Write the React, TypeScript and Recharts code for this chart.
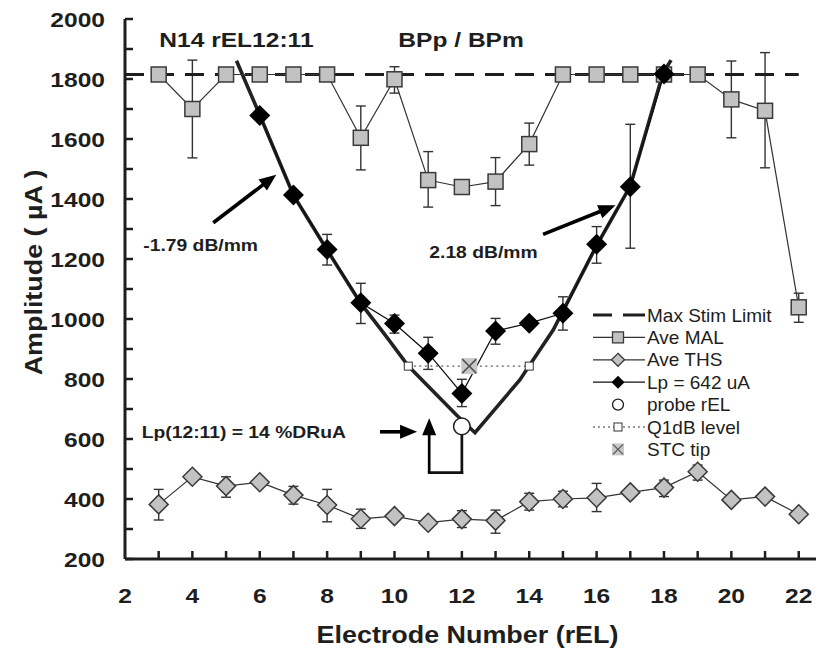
import React from 'react';
import { ComposedChart, Scatter, XAxis, YAxis, ErrorBar, ReferenceLine, Legend } from 'recharts';

// ---------- data ----------
const electrodes = [3, 4, 5, 6, 7, 8, 9, 10, 11, 12, 13, 14, 15, 16, 17, 18, 19, 20, 21, 22];
const malValues = [1815, 1700, 1815, 1815, 1815, 1815, 1604, 1799, 1463, 1440, 1458, 1583, 1815, 1815, 1815, 1815, 1815, 1732, 1694, 1039];
const malErr: (number[] | null)[] = [null, [163, 163], null, null, null, null, [107, 106], [46, 42], [90, 95], null, [80, 80], [70, 70], null, null, null, null, null, [128, 128], [190, 194], [50, 47]];
const thsValues = [382, 474, 443, 456, 413, 380, 334, 343, 321, 333, 328, 391, 400, 404, 422, 438, 491, 397, 408, 349];
const thsErr: (number[] | null)[] = [[52, 50], null, [37, 31], null, [30, 29], [56, 52], [32, 32], null, null, [28, 28], [42, 35], [28, 28], [26, 26], [46, 48], null, [30, 25], [28, 22], null, null, null];
const lpElectrodes = [6, 7, 8, 9, 10, 11, 12, 13, 14, 15, 16, 17, 18];
const lpValues = [1678, 1413, 1232, 1054, 985, 886, 752, 960, 986, 1019, 1249, 1441, 1817];
const lpErr: (number[] | null)[] = [null, null, [52, 50], [69, 65], [32, 28], [54, 53], [44, 47], [44, 42], null, [56, 55], [63, 59], [205, 208], null];
const vCurveX = [5.31, 6, 7, 8, 9, 9.76, 10.41, 11.84, 12.39, 13.72, 14, 14.71, 16, 17, 17.97, 18.21];
const vCurveY = [1861, 1680, 1413, 1230, 1052, 941, 843, 680, 621, 797, 844, 963, 1245, 1443, 1819, 1863];
const maxStimLimit = 1815;
const maxStimX = [2, 22];
const q1dbX = [10.41, 14];
const q1dbLevel = 843;
const stcTip = [{ x: 12.22, y: 843 }];
const probe = [{ x: 12, y: 642 }];
const bracketPath = [{ x: 12, y: 617 }, { x: 12, y: 488 }, { x: 11.03, y: 488 }];
const arrows = [
  { from: { x: 4.62, y: 1321 }, to: { x: 6.49, y: 1481 }, w: 3.6 },
  { from: { x: 14.41, y: 1282 }, to: { x: 16.56, y: 1379 }, w: 3.6 },
  { from: { x: 9.57, y: 624 }, to: { x: 10.67, y: 624 }, w: 3.6 },
  { from: { x: 11.03, y: 488 }, to: { x: 11.03, y: 669 }, w: 2.7 },
];
const xTicks = [2, 3, 4, 5, 6, 7, 8, 9, 10, 11, 12, 13, 14, 15, 16, 17, 18, 19, 20, 21, 22];
const yTicks = [200, 300, 400, 500, 600, 700, 800, 900, 1000, 1100, 1200, 1300, 1400, 1500, 1600, 1700, 1800, 1900, 2000];
const legendLabels = ['Max Stim Limit', 'Ave MAL', 'Ave THS', 'Lp = 642 uA', 'probe rEL', 'Q1dB level', 'STC tip'];

const malData = electrodes.map((x, i) => ({ x, y: malValues[i], err: malErr[i] }));
const thsData = electrodes.map((x, i) => ({ x, y: thsValues[i], err: thsErr[i] }));
const lpData = lpElectrodes.map((x, i) => ({ x, y: lpValues[i], err: lpErr[i] }));
const vData = vCurveX.map((x, i) => ({ x, y: vCurveY[i] }));
const maxData = maxStimX.map((x) => ({ x, y: maxStimLimit }));
const q1Data = q1dbX.map((x) => ({ x, y: q1dbLevel }));

// ---------- styles ----------
const FONT = '"Liberation Sans", Arial, Helvetica, sans-serif';
const INK = '#1e1e1e';
const GRAY = '#c2c2c2';
const EDGE = '#3a3a3a';
const SX = 1.17;

const None = () => <g />;
const Square = (p: any) => (
  <rect x={p.cx - 7.5} y={p.cy - 7.5} width={15} height={15} fill={GRAY} stroke={EDGE} strokeWidth={1.5} />
);
const GrayDiamond = (p: any) => (
  <polygon points={`${p.cx},${p.cy - 9.5} ${p.cx + 9.5},${p.cy} ${p.cx},${p.cy + 9.5} ${p.cx - 9.5},${p.cy}`} fill={GRAY} stroke={EDGE} strokeWidth={1.5} />
);
const BlackDiamond = (p: any) => (
  <polygon points={`${p.cx},${p.cy - 10.5} ${p.cx + 10.5},${p.cy} ${p.cx},${p.cy + 10.5} ${p.cx - 10.5},${p.cy}`} fill="#000" />
);
const OpenSquare = (p: any) => (
  <rect x={p.cx - 4} y={p.cy - 4} width={8} height={8} fill="#fff" stroke="#333" strokeWidth={1} />
);
const StcShape = (p: any) => (
  <g>
    <rect x={p.cx - 8} y={p.cy - 8} width={16} height={16} fill="#c8c8c8" />
    <line x1={p.cx - 7} y1={p.cy - 7} x2={p.cx + 7} y2={p.cy + 7} stroke="#555" strokeWidth={1.5} />
    <line x1={p.cx - 7} y1={p.cy + 7} x2={p.cx + 7} y2={p.cy - 7} stroke="#555" strokeWidth={1.5} />
  </g>
);
const ProbeShape = (p: any) => <circle cx={p.cx} cy={p.cy} r={8.3} fill="#fff" stroke={INK} strokeWidth={1.5} />;

const makeArrow = (w: number) => (p: any) => {
  const { x1, y1, x2, y2 } = p;
  const a = Math.atan2(y2 - y1, x2 - x1);
  const L = 17;
  const H = 7;
  const c = Math.cos(a);
  const s = Math.sin(a);
  const bx = x2 - L * c;
  const by = y2 - L * s;
  return (
    <g>
      <line x1={x1} y1={y1} x2={bx + c} y2={by + s} stroke="#000" strokeWidth={w} />
      <polygon points={`${x2},${y2} ${bx - H * s},${by + H * c} ${bx + H * s},${by - H * c}`} fill="#000" />
    </g>
  );
};
const plainLine = (p: any) => (
  <line x1={p.x1} y1={p.y1} x2={p.x2} y2={p.y2} stroke="#111" strokeWidth={2.7} strokeLinecap="square" />
);

const YTick = (p: any) => {
  const { x, y, payload } = p;
  const v = payload.value;
  const axisX = x + 20;
  return (
    <g>
      <line x1={axisX} y1={y} x2={axisX + 8} y2={y} stroke={INK} strokeWidth={2.5} />
      {v % 200 === 0 && (
        <text transform={`translate(${x},${y}) scale(${SX},1)`} textAnchor="end" dy="0.36em" fontFamily={FONT} fontWeight="bold" fontSize={21} fill={INK}>
          {v}
        </text>
      )}
    </g>
  );
};
const XTick = (p: any) => {
  const { x, y, payload } = p;
  const v = payload.value;
  return (
    <g>
      {v > 2 && <line x1={x} y1={y} x2={x} y2={y - 8} stroke={INK} strokeWidth={2.5} />}
      {v % 2 === 0 && (
        <text transform={`translate(${x},${y + 44}) scale(${SX},1)`} textAnchor="middle" fontFamily={FONT} fontWeight="bold" fontSize={21} fill={INK}>
          {v}
        </text>
      )}
    </g>
  );
};

const BoldText = ({ x, y, size, children, anchor = 'start', rotate = 0 }: any) => (
  <text transform={`translate(${x},${y}) rotate(${rotate}) scale(${SX},1)`} textAnchor={anchor} fontFamily={FONT} fontWeight="bold" fontSize={size} fill={INK}>
    {children}
  </text>
);

const Annotations = () => (
  <g>
    <BoldText x={151.3} y={38.7} size={21}>N14 rEL12:11</BoldText>
    <BoldText x={390.3} y={38.7} size={21}>BPp / BPm</BoldText>
    <BoldText x={135.3} y={242.7} size={16.5}>-1.79 dB/mm</BoldText>
    <BoldText x={421.3} y={249.7} size={16.5}>2.18 dB/mm</BoldText>
    <BoldText x={133.7} y={430.3} size={16.5}>Lp(12:11) = 14 %DRuA</BoldText>
    <BoldText x={459.5} y={635} size={23} anchor="middle">Electrode Number (rEL)</BoldText>
    <BoldText x={33.5} y={264.5} size={23} anchor="middle" rotate={-90}>Amplitude ( µA )</BoldText>
  </g>
);

const LegendBox = () => {
  const rowY = (i: number) => 15 + i * 22.4;
  const mx = 28;
  return (
    <svg width={230} height={165} style={{ display: 'block', overflow: 'visible' }}>
      {legendLabels.map((label, i) => {
        const y = rowY(i);
        let mark: React.ReactNode = null;
        if (i === 0) {
          mark = (
            <g>
              <line x1={3} y1={y} x2={22} y2={y} stroke={INK} strokeWidth={3} />
              <line x1={33} y1={y} x2={55} y2={y} stroke={INK} strokeWidth={3} />
            </g>
          );
        } else if (i === 1) {
          mark = (
            <g>
              <line x1={3} y1={y} x2={55} y2={y} stroke="#333" strokeWidth={1.2} />
              <rect x={mx - 5.5} y={y - 5.5} width={11} height={11} fill={GRAY} stroke={EDGE} strokeWidth={1.3} />
            </g>
          );
        } else if (i === 2) {
          mark = (
            <g>
              <line x1={3} y1={y} x2={55} y2={y} stroke="#333" strokeWidth={1.2} />
              <polygon points={`${mx},${y - 6.5} ${mx + 6.5},${y} ${mx},${y + 6.5} ${mx - 6.5},${y}`} fill={GRAY} stroke={EDGE} strokeWidth={1.3} />
            </g>
          );
        } else if (i === 3) {
          mark = (
            <g>
              <line x1={3} y1={y} x2={55} y2={y} stroke="#111" strokeWidth={1.2} />
              <polygon points={`${mx},${y - 6.5} ${mx + 6.5},${y} ${mx},${y + 6.5} ${mx - 6.5},${y}`} fill="#000" />
            </g>
          );
        } else if (i === 4) {
          mark = <circle cx={mx} cy={y} r={5.5} fill="#fff" stroke={INK} strokeWidth={1.3} />;
        } else if (i === 5) {
          mark = (
            <g>
              <line x1={3} y1={y} x2={55} y2={y} stroke="#333" strokeWidth={1} strokeDasharray="2 3" />
              <rect x={mx - 4} y={y - 4} width={8} height={8} fill="#fff" stroke="#333" strokeWidth={1} />
            </g>
          );
        } else {
          mark = (
            <g>
              <rect x={mx - 6} y={y - 6} width={12} height={12} fill="#c8c8c8" />
              <line x1={mx - 5} y1={y - 5} x2={mx + 5} y2={y + 5} stroke="#555" strokeWidth={1.3} />
              <line x1={mx - 5} y1={y + 5} x2={mx + 5} y2={y - 5} stroke="#555" strokeWidth={1.3} />
            </g>
          );
        }
        return (
          <g key={label}>
            {mark}
            <text x={57} y={y} dy="0.35em" fontFamily={FONT} fontSize={19} fill={INK}>
              {label}
            </text>
          </g>
        );
      })}
    </svg>
  );
};

export default function App() {
  return (
    <div style={{ width: 816, height: 646, background: '#fff' }}>
      <ComposedChart width={816} height={646} margin={{ top: 11, right: 0, bottom: 0, left: 0 }}>
        <XAxis
          type="number"
          dataKey="x"
          domain={[2, 22.75]}
          ticks={xTicks}
          interval={0}
          allowDataOverflow
          height={95}
          tickSize={0}
          tickMargin={0}
          tick={<XTick />}
          axisLine={{ stroke: INK, strokeWidth: 3 }}
          tickLine={false}
        />
        <YAxis
          type="number"
          dataKey="y"
          domain={[200, 2000]}
          ticks={yTicks}
          interval={0}
          allowDataOverflow
          width={117}
          tickSize={0}
          tickMargin={20}
          tick={<YTick />}
          axisLine={{ stroke: INK, strokeWidth: 3 }}
          tickLine={false}
        />
        <Scatter data={maxData} shape={None} line={{ stroke: INK, strokeWidth: 3, strokeDasharray: '19 11' }} isAnimationActive={false} />
        <Scatter data={vData} shape={None} line={{ stroke: '#222', strokeWidth: 3.6 }} isAnimationActive={false} />
        <Scatter data={malData} shape={Square} line={{ stroke: '#333', strokeWidth: 1.2 }} isAnimationActive={false}>
          <ErrorBar dataKey="err" direction="y" width={5} stroke="#333" strokeWidth={1.4} />
        </Scatter>
        <Scatter data={thsData} shape={GrayDiamond} line={{ stroke: '#333', strokeWidth: 1.2 }} isAnimationActive={false}>
          <ErrorBar dataKey="err" direction="y" width={5} stroke="#333" strokeWidth={1.4} />
        </Scatter>
        <Scatter data={lpData} shape={BlackDiamond} line={{ stroke: '#111', strokeWidth: 1.3 }} isAnimationActive={false}>
          <ErrorBar dataKey="err" direction="y" width={5} stroke="#333" strokeWidth={1.4} />
        </Scatter>
        <Scatter data={q1Data} shape={OpenSquare} line={{ stroke: '#333', strokeWidth: 1, strokeDasharray: '2 3.5' }} isAnimationActive={false} />
        <Scatter data={stcTip} shape={StcShape} isAnimationActive={false} />
        <ReferenceLine segment={[bracketPath[0], bracketPath[1]]} shape={plainLine} />
        <ReferenceLine segment={[bracketPath[1], bracketPath[2]]} shape={plainLine} />
        {arrows.map((a, i) => (
          <ReferenceLine key={i} segment={[a.from, a.to]} shape={makeArrow(a.w)} />
        ))}
        <Scatter data={probe} shape={ProbeShape} isAnimationActive={false} />
        <Legend
          layout="vertical"
          align="center"
          verticalAlign="middle"
          content={() => <LegendBox />}
          wrapperStyle={{ left: 582, top: 292, width: 230 }}
        />
        <Annotations />
      </ComposedChart>
    </div>
  );
}
